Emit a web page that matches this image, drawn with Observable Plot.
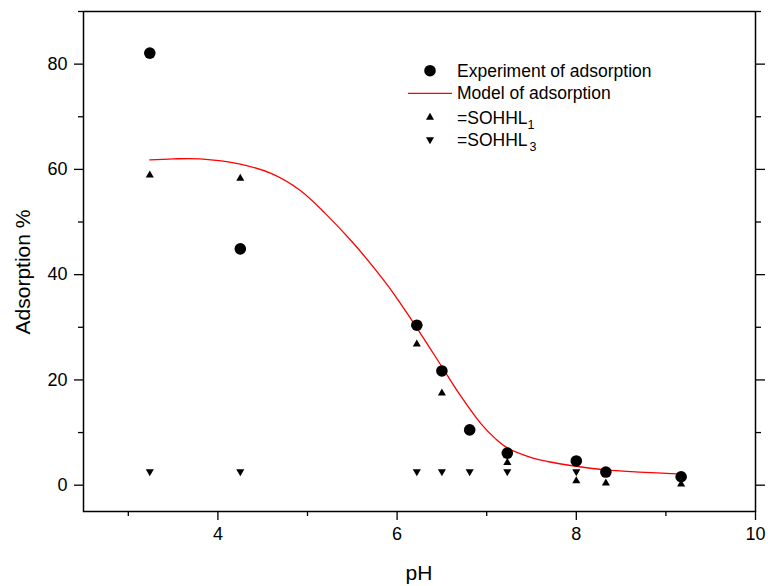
<!DOCTYPE html>
<html><head><meta charset="utf-8">
<script src="https://cdn.jsdelivr.net/npm/d3@7"></script>
<script src="https://cdn.jsdelivr.net/npm/@observablehq/plot@0.6"></script>
<style>
body{margin:0;background:#fff;font-family:"Liberation Sans",Arial,sans-serif}
#wrap{position:relative;width:768px;height:586px}
</style></head><body><div id="wrap"></div>
<script>
// data
const pH = [3.24, 4.25, 6.22, 6.50, 6.81, 7.23, 8.00, 8.33, 9.17];
const experiment = [82.1, 44.9, 30.4, 21.7, 10.5, 6.1, 4.6, 2.5, 1.6];
const sohhl1 = [58.9, 58.3, 26.8, 17.5, 10.4, 4.3, 0.8, 0.4, 0.2];
const sohhl3 = [2.6, 2.6, 2.6, 2.6, 2.6, 2.6, 2.6, 2.6, 1.2];
const modelPH  = [3.24, 3.5, 3.8, 4.25, 4.6, 4.92, 5.2, 5.5, 5.88, 6.05, 6.22, 6.5, 6.7, 6.94, 7.1, 7.23, 7.49, 7.68, 8.0, 8.33, 8.7, 9.17];
const modelVal = [61.8, 62.0, 62.0, 61.0, 59.2, 56.0, 51.6, 46.2, 38.3, 34.2, 29.9, 22.5, 17.2, 11.6, 8.8, 7.1, 5.3, 4.5, 3.6, 2.9, 2.5, 2.1];
const xMajor = [4, 6, 8, 10], xMinor = [3, 5, 7, 9];
const yMajor = [0, 20, 40, 60, 80], yMinor = [10, 30, 50, 70, 90];
const xTitle = "pH", yTitle = "Adsorption %";
const legendLabels = ["Experiment of adsorption", "Model of adsorption", "=SOHHL", "=SOHHL"];
const legendSubs = [null, null, "1", "3"];

const pts = pH.map((p, i) => ({pH: p, exp: experiment[i], s1: sohhl1[i], s3: sohhl3[i]}));
const model = modelPH.map((p, i) => ({pH: p, v: modelVal[i]}));
const blank = () => "";

const chart = Plot.plot({
  width: 768, height: 586,
  marginLeft: 83, marginRight: 13, marginTop: 11, marginBottom: 75,
  style: {fontFamily: "Liberation Sans, Arial, sans-serif", background: "#fff", color: "#000"},
  x: {domain: [2.5, 10]},
  y: {domain: [-5, 90]},
  marks: [
    Plot.axisX(xMajor, {anchor: "bottom", tickSize: 9, tickPadding: 7, fontSize: 18, label: null, tickFormat: d => String(d), strokeWidth: 1.3}),
    Plot.axisX(xMinor, {anchor: "bottom", tickSize: 5, tickFormat: blank, label: null, strokeWidth: 1.3}),
    Plot.axisY(yMajor, {anchor: "left", tickSize: 9, tickPadding: 7, fontSize: 18, label: null, tickFormat: d => String(d), strokeWidth: 1.3}),
    Plot.axisY(yMinor, {anchor: "left", tickSize: 5, tickFormat: blank, label: null, strokeWidth: 1.3}),
    Plot.axisY(yMajor, {anchor: "right", tickSize: 9, tickFormat: blank, label: null, strokeWidth: 1.3}),
    Plot.axisY(yMinor, {anchor: "right", tickSize: 5, tickFormat: blank, label: null, strokeWidth: 1.3}),
    Plot.frame({stroke: "#000", strokeWidth: 1.5}),
    Plot.line(model, {x: "pH", y: "v", stroke: "#ff0000", strokeWidth: 1.3, curve: "catmull-rom"}),
    Plot.dot(pts, {x: "pH", y: "s3", symbol: "triangle", rotate: 180, r: 3, fill: "#000", stroke: "none"}),
    Plot.dot(pts, {x: "pH", y: "s1", symbol: "triangle", r: 3, fill: "#000", stroke: "none"}),
    Plot.dot(pts, {x: "pH", y: "exp", symbol: "circle", r: 5.8, fill: "#000", stroke: "none"})
  ]
});
document.getElementById("wrap").appendChild(chart);

const svg = d3.select(chart);
// axis titles
svg.append("text").attr("x", 419).attr("y", 580).attr("text-anchor", "middle")
  .attr("font-size", 21).attr("fill", "#000").text(xTitle);
svg.append("text").attr("transform", "translate(30,272) rotate(-90)").attr("text-anchor", "middle")
  .attr("font-size", 21).attr("fill", "#000").text(yTitle);

// legend
const lg = svg.append("g").attr("font-size", 17.5).attr("fill", "#000").attr("text-anchor", "start");
const rowY = [70.7, 93.3, 117.5, 139.5];
const sym = d3.symbol();
lg.append("circle").attr("cx", 430).attr("cy", rowY[0]).attr("r", 5.8).attr("fill", "#000");
lg.append("line").attr("x1", 408).attr("x2", 452).attr("y1", rowY[1]).attr("y2", rowY[1]).attr("stroke", "#ff0000").attr("stroke-width", 1.3);
lg.append("path").attr("d", sym.type(d3.symbolTriangle).size(Math.PI * 9)()).attr("transform", `translate(430,${rowY[2]})`);
lg.append("path").attr("d", sym.type(d3.symbolTriangle).size(Math.PI * 9)()).attr("transform", `translate(430,${rowY[3]}) rotate(180)`);
legendLabels.forEach((t, i) => {
  const tx = lg.append("text").attr("x", 457).attr("y", rowY[i] + 6).attr("text-anchor", "start");
  tx.append("tspan").text(t);
  if (legendSubs[i]) {
    tx.append("tspan").attr("font-size", 12.5).attr("dy", 5).attr("dx", i === 3 ? 2 : 0).text(legendSubs[i]);
  }
});
</script>
</body></html>
